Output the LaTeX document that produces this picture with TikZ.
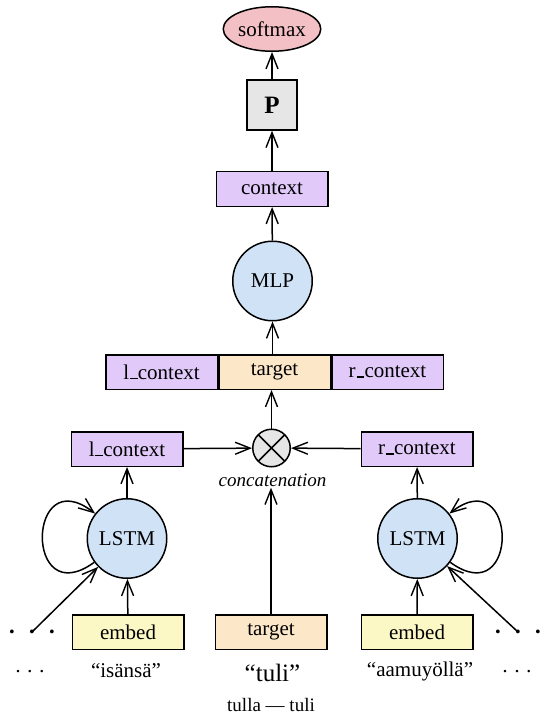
\documentclass[tikz,border=0pt]{standalone}
\usepackage{fontspec}
\setmainfont{Liberation Serif}
\usetikzlibrary{arrows.meta,shapes.geometric}
\definecolor{cpurple}{RGB}{225,201,250}
\definecolor{cblue}{RGB}{208,226,246}
\definecolor{cpeach}{RGB}{252,232,200}
\definecolor{cyellow}{RGB}{252,248,198}
\definecolor{cpink}{RGB}{243,192,197}
\definecolor{cgray}{RGB}{230,230,230}
\newcommand{\zdot}{\makebox[0pt]{·}}
\newcommand{\us}{\kern.04em\vbox{\hrule width.36em height .075em}\kern.02em}
\begin{document}
\begin{tikzpicture}[x=1pt,y=-1pt,line width=1.5pt,
  every node/.style={font=\fontsize{21}{25}\selectfont, inner sep=0pt},
  arr/.style={-{Straight Barb[length=15pt,width=12pt,line width=1.4pt]}},
  box/.style={draw, rectangle, minimum width=111.5pt, minimum height=34.5pt},
  circ/.style={draw, circle, fill=cblue, minimum size=79.5pt},
  ell/.style={draw, ellipse, fill=cpink, minimum width=97.5pt, minimum height=44.5pt},
  pbox/.style={draw, rectangle, fill=cgray, minimum size=50pt},
  cross/.style={draw, circle, fill=cgray, minimum size=37.5pt,
    path picture={\draw (path picture bounding box.north west) -- (path picture bounding box.south east)
      (path picture bounding box.north east) -- (path picture bounding box.south west);}},
  bigdots/.style={font=\fontsize{32}{32}\selectfont, anchor=base},
  smalldots/.style={font=\fontsize{21}{25}\selectfont, anchor=base},
  word/.style={font=\fontsize{21}{25}\selectfont},
  small/.style={font=\fontsize{19}{22}\selectfont}]
\useasboundingbox (0,0) rectangle (542,714);

\node[ell] (softmax) at (272,29) {softmax};
\node[pbox] (P) at (272,105) {\fontsize{25}{30}\selectfont\bfseries P};
\node[box, fill=cpurple] (ctx) at (272,189) {context};
\node[circ] (mlp) at (272.5,281) {MLP};
\node[box, fill=cpurple] (lctxT) at (161.5,372) {l\us context};
\node[box, fill=cpeach] (tgtT) at (274.5,372) {target};
\node[box, fill=cpurple] (rctxT) at (387.5,372) {r\us context};
\node[cross] (concat) at (271.5,448) {};
\node[small, font=\fontsize{19}{22}\selectfont\itshape] (conclabel) at (272.5,480.5) {concatenation};
\node[box, fill=cpurple] (lctx) at (127,449) {l\us context};
\node[box, fill=cpurple] (rctx) at (417,449) {r\us context};
\node[circ] (lstmL) at (127,538.5) {LSTM};
\node[circ] (lstmR) at (417.5,538.5) {LSTM};
\node[box, fill=cyellow] (embL) at (128,632) {embed};
\node[box, fill=cpeach] (tgtB) at (271,632) {target};
\node[box, fill=cyellow] (embR) at (417,632) {embed};

\node[bigdots] (bdL) at (32,642) {\zdot\hspace{20pt}\zdot\hspace{20pt}\zdot};
\node[bigdots] (bdR) at (518,642) {\zdot\hspace{20pt}\zdot\hspace{20pt}\zdot};
\coordinate (dotL) at (32,632);
\coordinate (dotR) at (518,632);
\node[smalldots] (sdL) at (30,678) {\zdot\hspace{12pt}\zdot\hspace{12pt}\zdot};
\node[smalldots] (sdR) at (517,678) {\zdot\hspace{12pt}\zdot\hspace{12pt}\zdot};

\node[word] (wL) at (126,671) {“isänsä”};
\node[font=\fontsize{25}{30}\selectfont] (wM) at (272.5,673) {“tuli”};
\node[word] (wR) at (420,671) {“aamuyöllä”};
\node[small] (lemma) at (271,704.5) {tulla — tuli};

\draw[arr] (P) -- (softmax);
\draw[arr] (ctx) -- (P);
\draw[arr] (mlp) -- (ctx);
\draw[arr] (mlp |- tgtT.north) -- (mlp.south);
\draw[arr] (concat.north) -- (concat.north |- tgtT.south);
\draw[arr] (lctx) -- (concat);
\draw[arr] (rctx) -- (concat);
\draw[arr] (tgtB.north) -- (tgtB.north |- conclabel.south);
\draw[arr] (lstmL) -- (lctx);
\draw[arr] (lstmR) -- (rctx);
\draw[arr] (embL) -- (lstmL);
\draw[arr] (embR) -- (lstmR);
\draw[arr] (dotL) -- (lstmL);
\draw[arr] (dotR) -- (lstmR);
\draw[arr] (lstmL.216) .. controls +(216:87pt) and +(142:87pt) .. (lstmL.142);
\draw[arr] (lstmR.-36) .. controls +(-36:87pt) and +(38:87pt) .. (lstmR.38);
\end{tikzpicture}
\end{document}
